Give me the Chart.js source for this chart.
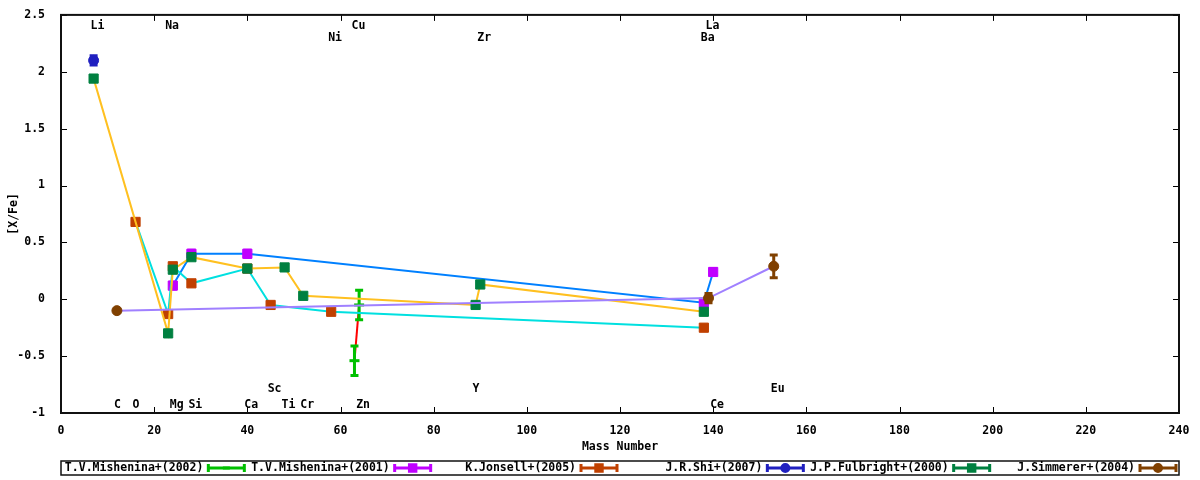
<!DOCTYPE html>
<html>
<head>
<meta charset="utf-8">
<script src="https://cdn.jsdelivr.net/npm/chart.js@4"></script>
<style>
  html, body { margin: 0; padding: 0; background: #fff; }
  #wrap { width: 1200px; height: 480px; }
</style>
</head>
<body>
<div id="wrap"><canvas id="abund"></canvas></div>
<script>
// [X/Fe] against mass number, one set of arrays per source
const mish02Mass = [63, 64];
const mish02Val = [-0.54, -0.05];
const mish02Err = [0.13, 0.13];

const mish01Mass = [24, 28, 40, 138, 140];
const mish01Val = [0.12, 0.40, 0.40, -0.03, 0.24];
const mish01Err = [0.03, 0.03, 0.03, 0.03, 0.03];

const jonsMass = [16, 23, 24, 28, 40, 45, 58, 138];
const jonsVal = [0.68, -0.13, 0.29, 0.14, 0.27, -0.05, -0.11, -0.25];

const shiMass = [7];
const shiVal = [2.10];
const shiErr = [0.04];

const fulbMass = [7, 23, 24, 28, 40, 48, 52, 89, 90, 138];
const fulbVal = [1.94, -0.30, 0.26, 0.37, 0.27, 0.28, 0.03, -0.05, 0.13, -0.11];

const simmMass = [12, 139, 153];
const simmVal = [-0.10, 0.01, 0.29];
const simmErr = [0, 0.04, 0.10];

// element names written along the top and bottom of the plot
const elemNames = ['Li', 'Na', 'Cu', 'La', 'Ni', 'Zr', 'Ba',
                   'Sc', 'Y', 'Eu',
                   'C', 'O', 'Mg', 'Si', 'Ca', 'Ti', 'Cr', 'Zn', 'Ce'];
const elemMass = [7, 23, 63, 139, 58, 90, 138,
                  45, 89, 153,
                  12, 16, 24, 28, 40, 48, 52, 64, 140];
const elemRow = [2.40, 2.40, 2.40, 2.40, 2.30, 2.30, 2.30,
                 -0.79, -0.79, -0.79,
                 -0.93, -0.93, -0.93, -0.93, -0.93, -0.93, -0.93, -0.93, -0.93];

const FONT = '"DejaVu Sans Mono", "Liberation Mono", monospace';

function pts(mass, val) {
    return mass.map((m, i) => ({ x: m, y: val[i] }));
}

// vertical error bars with caps, drawn right after their own dataset
const errorBars = {
    id: 'errorBars',
    afterDatasetDraw(chart, args) {
        const ds = chart.data.datasets[args.index];
        if (!ds.errs) return;
        const ctx = chart.ctx;
        const ys = chart.scales.y;
        ctx.save();
        ctx.strokeStyle = ds.pointBackgroundColor;
        ctx.lineWidth = 3;
        args.meta.data.forEach((pt, i) => {
            const e = ds.errs[i];
            if (!e) return;
            const v = ds.data[i].y;
            const top = ys.getPixelForValue(v + e);
            const bot = ys.getPixelForValue(v - e);
            ctx.beginPath();
            ctx.moveTo(pt.x, top); ctx.lineTo(pt.x, bot);
            ctx.moveTo(pt.x - 4, top); ctx.lineTo(pt.x + 4, top);
            ctx.moveTo(pt.x - 4, bot); ctx.lineTo(pt.x + 4, bot);
            ctx.stroke();
        });
        ctx.restore();
    }
};

// border box, inward ticks on all four sides, element names
const frame = {
    id: 'frame',
    afterDraw(chart) {
        const { ctx, chartArea: a, scales: { x, y } } = chart;
        ctx.save();
        ctx.strokeStyle = '#000';
        ctx.lineWidth = 1;
        ctx.beginPath();
        x.ticks.forEach(t => {
            const px = Math.round(x.getPixelForValue(t.value)) + 0.5;
            ctx.moveTo(px, a.bottom); ctx.lineTo(px, a.bottom - 6);
            ctx.moveTo(px, a.top); ctx.lineTo(px, a.top + 6);
        });
        y.ticks.forEach(t => {
            const py = Math.round(y.getPixelForValue(t.value)) + 0.5;
            ctx.moveTo(a.left, py); ctx.lineTo(a.left + 6, py);
            ctx.moveTo(a.right, py); ctx.lineTo(a.right - 6, py);
        });
        ctx.stroke();
        ctx.lineWidth = 2;
        ctx.strokeStyle = '#111';
        ctx.strokeRect(a.left, a.top, a.right - a.left, a.bottom - a.top);

        ctx.fillStyle = '#000';
        ctx.font = 'bold 11.5px ' + FONT;
        ctx.textAlign = 'left';
        ctx.textBaseline = 'middle';
        elemNames.forEach((n, i) => {
            ctx.fillText(n, x.getPixelForValue(elemMass[i]) - 3, y.getPixelForValue(elemRow[i]));
        });
        ctx.restore();
    }
};

// gnuplot style key: text, then a small error bar sample
const keyBox = {
    id: 'keyBox',
    afterDraw(chart) {
        const { ctx, chartArea: a } = chart;
        const top = 461, h = 14, cy = top + h / 2;
        const sets = chart.data.datasets;
        const colW = (a.right - a.left) / sets.length;
        ctx.save();
        ctx.strokeStyle = '#111';
        ctx.lineWidth = 1.5;
        ctx.strokeRect(a.left, top, a.right - a.left, h);
        ctx.font = 'bold 11.5px ' + FONT;
        ctx.textAlign = 'right';
        ctx.textBaseline = 'middle';
        sets.forEach((ds, i) => {
            const end = a.left + colW * (i + 1) - 3;
            const start = end - 36;
            ctx.fillStyle = '#000';
            ctx.fillText(ds.label, start - 5, cy + 0.5);
            ctx.strokeStyle = ds.pointBackgroundColor;
            ctx.lineWidth = 3;
            ctx.beginPath();
            ctx.moveTo(start, cy); ctx.lineTo(end, cy);
            ctx.moveTo(start, cy - 4); ctx.lineTo(start, cy + 4);
            ctx.moveTo(end, cy - 4); ctx.lineTo(end, cy + 4);
            ctx.stroke();
            if (ds.pointRadius && Chart.helpers && Chart.helpers.drawPoint) {
                ctx.fillStyle = ds.pointBackgroundColor;
                Chart.helpers.drawPoint(ctx, {
                    pointStyle: ds.pointStyle, radius: ds.pointRadius * 0.7,
                    borderWidth: 1, rotation: 0
                }, (start + end) / 2, cy);
                ctx.fill();
            }
        });
        ctx.restore();
    }
};

const canvas = document.getElementById('abund');

new Chart(canvas, {
    type: 'scatter',
    data: {
        datasets: [
            {
                label: 'T.V.Mishenina+(2002)',
                data: pts(mish02Mass, mish02Val),
                errs: mish02Err,
                showLine: true,
                borderColor: '#ff0000',
                borderWidth: 2,
                pointStyle: 'line',
                pointRadius: 5,
                pointBorderWidth: 3,
                pointBackgroundColor: '#00c000',
                pointBorderColor: '#00c000',
                order: 6
            },
            {
                label: 'T.V.Mishenina+(2001)',
                data: pts(mish01Mass, mish01Val),
                errs: mish01Err,
                showLine: true,
                borderColor: '#0080ff',
                borderWidth: 2,
                pointStyle: 'rect',
                pointRadius: 6.5,
                pointBorderWidth: 1,
                pointBackgroundColor: '#c000ff',
                pointBorderColor: '#c000ff',
                order: 5
            },
            {
                label: 'K.Jonsell+(2005)',
                data: pts(jonsMass, jonsVal),
                showLine: true,
                borderColor: '#00e0e0',
                borderWidth: 2,
                pointStyle: 'rect',
                pointRadius: 6.5,
                pointBorderWidth: 1,
                pointBackgroundColor: '#c04000',
                pointBorderColor: '#c04000',
                order: 4
            },
            {
                label: 'J.R.Shi+(2007)',
                data: pts(shiMass, shiVal),
                errs: shiErr,
                showLine: false,
                pointStyle: 'circle',
                pointRadius: 5,
                pointBorderWidth: 1,
                pointBackgroundColor: '#2020c0',
                pointBorderColor: '#2020c0',
                order: 3
            },
            {
                label: 'J.P.Fulbright+(2000)',
                data: pts(fulbMass, fulbVal),
                showLine: true,
                borderColor: '#ffc020',
                borderWidth: 2,
                pointStyle: 'rect',
                pointRadius: 6.5,
                pointBorderWidth: 1,
                pointBackgroundColor: '#008040',
                pointBorderColor: '#008040',
                order: 2
            },
            {
                label: 'J.Simmerer+(2004)',
                data: pts(simmMass, simmVal),
                errs: simmErr,
                showLine: true,
                borderColor: '#a080ff',
                borderWidth: 2,
                pointStyle: 'circle',
                pointRadius: 5,
                pointBorderWidth: 1,
                pointBackgroundColor: '#804000',
                pointBorderColor: '#804000',
                order: 1
            }
        ]
    },
    options: {
        responsive: true,
        maintainAspectRatio: false,
        animation: false,
        layout: { padding: { top: 14, right: 21, left: 0, bottom: 0 } },
        plugins: {
            legend: { display: false },
            tooltip: { enabled: false }
        },
        scales: {
            x: {
                type: 'linear',
                min: 0,
                max: 240,
                grid: { display: false },
                border: { display: false },
                ticks: {
                    stepSize: 20,
                    padding: 3,
                    maxRotation: 0,
                    color: '#000',
                    font: { family: FONT, size: 11.5, weight: 'bold' }
                },
                title: {
                    display: true,
                    text: 'Mass Number',
                    color: '#000',
                    padding: { top: 4, bottom: 26 },
                    font: { family: FONT, size: 11.5, weight: 'bold' }
                },
                afterFit: s => { s.height = 67; }
            },
            y: {
                type: 'linear',
                min: -1,
                max: 2.5,
                grid: { display: false },
                border: { display: false },
                ticks: {
                    stepSize: 0.5,
                    padding: 8,
                    color: '#000',
                    callback: v => String(v),
                    font: { family: FONT, size: 11.5, weight: 'bold' }
                },
                title: {
                    display: true,
                    text: '[X/Fe]',
                    color: '#000',
                    padding: { top: 7, bottom: 0 },
                    font: { family: FONT, size: 11.5, weight: 'bold' }
                },
                afterFit: s => { s.width = 61; }
            }
        }
    },
    plugins: [errorBars, frame, keyBox]
});
</script>
</body>
</html>
